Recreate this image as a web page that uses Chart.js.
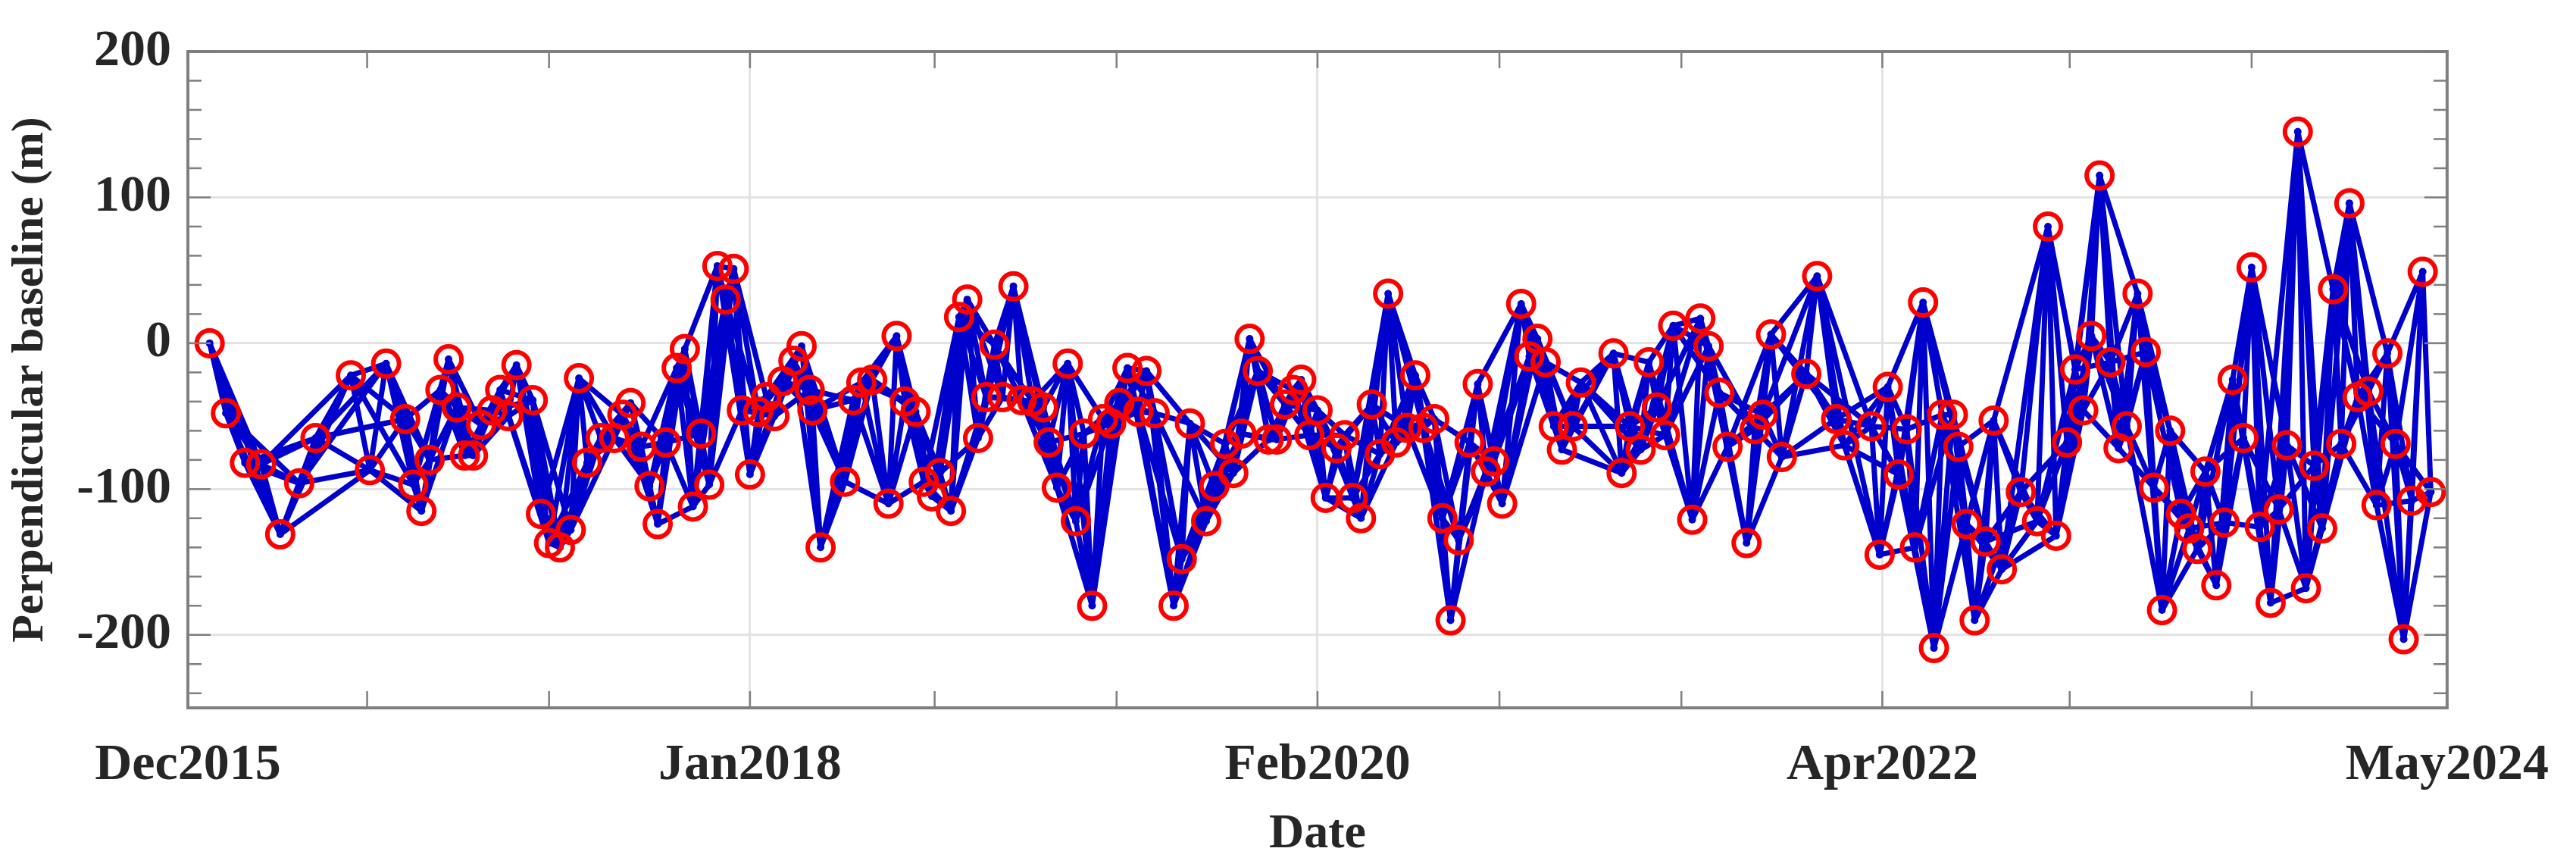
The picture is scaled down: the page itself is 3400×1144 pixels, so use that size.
<!DOCTYPE html>
<html>
<head>
<meta charset="utf-8">
<script src="https://cdn.jsdelivr.net/npm/chart.js@4.4.1/dist/chart.umd.min.js"></script>
<style>
  html, body { margin: 0; padding: 0; background: #fff; }
  #wrap { width: 3400px; height: 1144px; }
</style>
</head>
<body>
<div id="wrap"><canvas id="chart" width="3400" height="1144"></canvas></div>
<script>
// acquisition dates (decimal years)
const fechas = [
  2016.00, 2016.06, 2016.13, 2016.19, 2016.26, 2016.33, 2016.39, 2016.52, 2016.59, 2016.65,
  2016.72, 2016.75, 2016.78, 2016.81, 2016.85, 2016.88, 2016.91, 2016.94, 2016.97, 2017.00,
  2017.04, 2017.07, 2017.10, 2017.13, 2017.19, 2017.22, 2017.25, 2017.29, 2017.33, 2017.36,
  2017.39, 2017.44, 2017.49, 2017.52, 2017.55, 2017.59, 2017.62, 2017.65, 2017.68, 2017.72,
  2017.75, 2017.78, 2017.81, 2017.84, 2017.87, 2017.90, 2017.93, 2017.96, 2017.99, 2018.02,
  2018.05, 2018.08, 2018.11, 2018.15, 2018.18, 2018.21, 2018.22, 2018.25, 2018.34, 2018.37,
  2018.40, 2018.44, 2018.50, 2018.53, 2018.56, 2018.60, 2018.63, 2018.66, 2018.69, 2018.73,
  2018.76, 2018.79, 2018.83, 2018.86, 2018.89, 2018.92, 2018.96, 2018.99, 2019.03, 2019.07,
  2019.09, 2019.12, 2019.16, 2019.19, 2019.22, 2019.25, 2019.29, 2019.32, 2019.35, 2019.38,
  2019.42, 2019.45, 2019.48, 2019.55, 2019.58, 2019.61, 2019.67, 2019.70, 2019.74, 2019.77,
  2019.80, 2019.83, 2019.86, 2019.90, 2019.93, 2019.96, 2019.99, 2020.02, 2020.05, 2020.08,
  2020.11, 2020.15, 2020.18, 2020.21, 2020.24, 2020.28, 2020.31, 2020.34, 2020.37, 2020.41,
  2020.44, 2020.47, 2020.51, 2020.54, 2020.57, 2020.60, 2020.64, 2020.67, 2020.70, 2020.73,
  2020.76, 2020.83, 2020.86, 2020.89, 2020.92, 2020.95, 2020.98, 2021.02, 2021.05, 2021.17,
  2021.20, 2021.23, 2021.27, 2021.30, 2021.33, 2021.36, 2021.39, 2021.46, 2021.49, 2021.52,
  2021.56, 2021.59, 2021.66, 2021.69, 2021.72, 2021.75, 2021.79, 2021.88, 2021.92, 2021.99,
  2022.02, 2022.12, 2022.15, 2022.18, 2022.22, 2022.25, 2022.28, 2022.31, 2022.35, 2022.38,
  2022.42, 2022.44, 2022.47, 2022.50, 2022.54, 2022.57, 2022.60, 2022.67, 2022.73, 2022.77,
  2022.80, 2022.84, 2022.87, 2022.90, 2022.93, 2022.96, 2023.00, 2023.03, 2023.06, 2023.10,
  2023.13, 2023.16, 2023.19, 2023.22, 2023.26, 2023.29, 2023.32, 2023.35, 2023.39, 2023.42,
  2023.45, 2023.49, 2023.52, 2023.55, 2023.59, 2023.62, 2023.65, 2023.69, 2023.72, 2023.75,
  2023.78, 2023.82, 2023.85, 2023.88, 2023.91, 2023.95, 2023.98, 2024.02, 2024.05, 2024.08,
  2024.11, 2024.15, 2024.18
];
// perpendicular baselines (m)
const bperp = [
  0, -48, -82, -83, -131, -96, -65, -22, -87, -14,
  -52, -97, -115, -80, -32, -11, -44, -77, -77, -56,
  -46, -32, -50, -15, -39, -117, -137, -140, -128, -24,
  -82, -65, -65, -49, -41, -71, -98, -124, -68, -17,
  -4, -112, -62, -97, 53, 30, 51, -46, -90, -47,
  -37, -50, -26, -12, -2, -32, -46, -140, -95, -39,
  -27, -25, -110, 5, -40, -47, -95, -105, -89, -115,
  18, 30, -65, -37, -1, -37, 39, -39, -40, -44,
  -68, -99, -14, -122, -62, -180, -52, -55, -41, -17,
  -47, -19, -48, -180, -148, -55, -122, -98, -69, -89,
  -62, 3, -19, -66, -66, -42, -32, -25, -63, -46,
  -106, -72, -63, -106, -120, -42, -76, 34, -68, -58,
  -22, -58, -52, -120, -190, -135, -68, -28, -88, -81,
  -110, 27, -9, 3, -13, -57, -73, -57, -27, -7,
  -89, -57, -73, -13, -44, -63, 12, -121, 17, -2,
  -34, -71, -137, -59, -49, 6, -78, -21, 46, -52,
  -70, -57, -145, -30, -90, -59, -140, 28, -209, -49,
  -49, -71, -124, -190, -136, -53, -155, -102, -122, 80,
  -132, -68, -18, -46, 5, 115, -13, -72, -57, 34,
  -6, -99, -183, -60, -117, -127, -141, -88, -166, -123,
  -25, -65, 52, -126, -178, -114, -70, 145, -168, -84,
  -127, 37, -69, 96, -37, -33, -111, -7, -69, -203,
  -108, 49, -102
];
// x tick positions and labels
const tickPos = [2015.92, 2017.99, 2020.08, 2022.16, 2024.24];
const tickLabels = ["Dec2015", "Jan2018", "Feb2020", "Apr2022", "May2024"];
const yTicks = [-200, -100, 0, 100, 200];

const puntos = fechas.map((t, i) => ({ x: t, y: bperp[i] }));

// interferogram pairs: each image with its next few acquisitions
const VECINOS = 4;
const aristas = [];
for (let i = 0; i < puntos.length; i++) {
  for (let j = i + 1; j <= i + VECINOS && j < puntos.length; j++) {
    aristas.push(puntos[i], puntos[j], { x: puntos[j].x, y: null });
  }
}

const fuente = "'Liberation Serif', 'DejaVu Serif', serif";

const marco = {
  id: "marco",
  afterDatasetsDraw(chart) {
    const { ctx, chartArea: a } = chart;
    ctx.save();
    ctx.strokeStyle = "#7f7f7f";
    ctx.lineWidth = 4;
    ctx.strokeRect(a.left, a.top, a.right - a.left, a.bottom - a.top);
    // minor tick marks
    ctx.lineWidth = 2.5;
    const ys = chart.scales.y;
    for (let v = -240; v <= 200; v += 20) {
      const py = ys.getPixelForValue(v);
      const len = v % 100 === 0 ? 30 : 18;
      ctx.beginPath(); ctx.moveTo(a.left, py); ctx.lineTo(a.left + len, py); ctx.stroke();
      ctx.beginPath(); ctx.moveTo(a.right, py); ctx.lineTo(a.right - len, py); ctx.stroke();
    }
    const xs = chart.scales.x;
    const menores = [2016.58, 2017.25, 2018.67, 2019.34, 2020.75, 2021.42, 2022.85, 2023.52];
    menores.concat(tickPos).forEach(v => {
      const px = xs.getPixelForValue(v);
      ctx.beginPath(); ctx.moveTo(px, a.bottom); ctx.lineTo(px, a.bottom - 22); ctx.stroke();
      ctx.beginPath(); ctx.moveTo(px, a.top); ctx.lineTo(px, a.top + 22); ctx.stroke();
    });
    ctx.restore();
  }
};

new Chart(document.getElementById("chart"), {
  type: "scatter",
  data: {
    datasets: [
      {
        data: puntos,
        showLine: false,
        pointRadius: 17,
        pointBorderWidth: 6,
        pointBorderColor: "#ff0000",
        pointBackgroundColor: "rgba(0,0,0,0)",
        order: 0
      },
      {
        data: puntos,
        showLine: false,
        pointRadius: 5,
        pointBorderWidth: 0,
        pointBackgroundColor: "#0000cc",
        order: 1
      },
      {
        data: aristas,
        showLine: true,
        spanGaps: false,
        borderColor: "#0000cc",
        borderWidth: 7,
        pointRadius: 0,
        order: 2
      }
    ]
  },
  options: {
    responsive: false,
    animation: false,
    devicePixelRatio: 1,
    layout: { padding: { top: 68, right: 165, left: 0, bottom: 0 } },
    plugins: { legend: { display: false }, tooltip: { enabled: false } },
    scales: {
      x: {
        type: "linear",
        min: 2015.92,
        max: 2024.24,
        afterBuildTicks: s => { s.ticks = tickPos.map(v => ({ value: v })); },
        afterFit: s => { s.height = 210; },
        ticks: {
          autoSkip: false,
          maxRotation: 0,
          padding: 36,
          color: "#262626",
          font: { family: fuente, size: 68, weight: "bold" },
          callback: (v, i) => tickLabels[i]
        },
        grid: { color: "#e3e3e3", lineWidth: 3, drawTicks: false },
        border: { display: false },
        title: {
          display: true,
          text: "Date",
          color: "#262626",
          padding: { top: 0 },
          font: { family: fuente, size: 64, weight: "bold" }
        }
      },
      y: {
        min: -250,
        max: 200,
        afterBuildTicks: s => { s.ticks = yTicks.map(v => ({ value: v })); },
        afterFit: s => { s.width = 248; },
        ticks: {
          padding: 22,
          color: "#262626",
          font: { family: fuente, size: 68, weight: "bold" }
        },
        grid: { color: "#e3e3e3", lineWidth: 3, drawTicks: false },
        border: { display: false },
        title: {
          display: true,
          text: "Perpendicular baseline (m)",
          color: "#262626",
          padding: { bottom: 2 },
          font: { family: fuente, size: 60, weight: "bold" }
        }
      }
    }
  },
  plugins: [marco]
});
</script>
</body>
</html>
